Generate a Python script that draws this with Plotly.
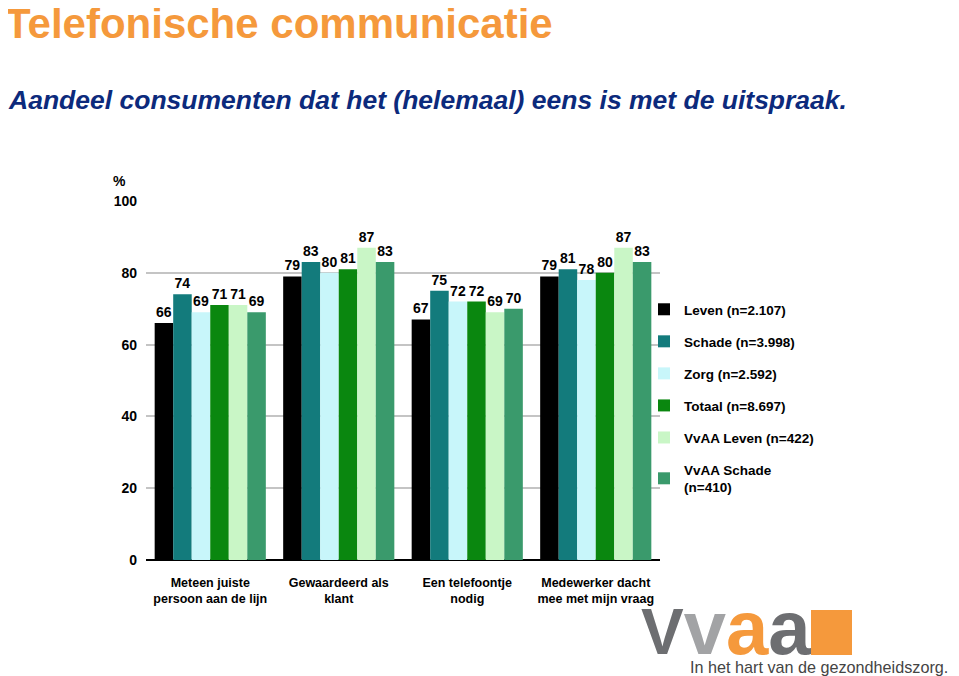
import plotly.graph_objects as go

categories = ["Meteen juiste<br>persoon aan de lijn", "Gewaardeerd als<br>klant",
              "Een telefoontje<br>nodig", "Medewerker dacht<br>mee met mijn vraag"]
series_names = ["Leven (n=2.107)", "Schade (n=3.998)", "Zorg (n=2.592)",
                "Totaal (n=8.697)", "VvAA Leven (n=422)", "VvAA Schade<br>(n=410)"]
leven = [66, 79, 67, 79]
schade = [74, 83, 75, 81]
zorg = [69, 80, 72, 78]
totaal = [71, 81, 72, 80]
vvaa_leven = [71, 87, 69, 87]
vvaa_schade = [69, 83, 70, 83]
y_ticks = [0, 20, 40, 60, 80, 100]

colors = ["#000000", "#137B7C", "#C8F6FA", "#0A870F", "#C9F6C6", "#3A9A6C"]
orange = "#F5993C"

# the page puts the figure 8px in from the top-left corner
OFF = 8
W, H = 959 - OFF, 676 - OFF
L, R, T, B = 146 - OFF, 299, 201 - OFF, 116
pw, ph = W - L - R, H - T - B

def px(x):
    return (x - OFF - L) / pw

def py(y):
    return (H - B - (y - OFF)) / ph

fig = go.Figure()
for name, vals, col in zip(series_names,
                           [leven, schade, zorg, totaal, vvaa_leven, vvaa_schade],
                           colors):
    fig.add_trace(go.Bar(x=categories, y=vals, name=name, marker_color=col,
                         marker_line_width=0, text=vals, textposition="outside",
                         cliponaxis=False, legendgroup=name,
                         textfont=dict(family="Liberation Sans", size=14,
                                       color="black", weight="bold")))

fig.update_layout(
    width=W, height=H,
    margin=dict(l=L, r=R, t=T, b=B),
    plot_bgcolor="white", paper_bgcolor="white",
    barmode="group", bargap=0.135, bargroupgap=0,
    font=dict(family="Liberation Sans", color="black"),
    showlegend=True,
    legend=dict(x=px(644), y=py(294), xanchor="left", yanchor="top",
                traceorder="grouped", tracegroupgap=11.5,
                font=dict(size=13.5, weight="bold"), bgcolor="rgba(0,0,0,0)"),
)
fig.update_xaxes(showgrid=False, showline=False, ticks="",
                 tickfont=dict(size=12.5, weight="bold"), ticklabelstandoff=13)
fig.update_yaxes(range=[0, 100], tickvals=y_ticks, showgrid=True,
                 gridcolor="#C4C4C4", gridwidth=1.5, zeroline=True,
                 zerolinecolor="black", zerolinewidth=2, showline=False,
                 ticks="", ticklabelstandoff=8,
                 tickfont=dict(size=14, weight="bold"))

logo = ("<span style='color:#6D6E71;font-size:64px'>V</span>"
        "<span style='color:#A2A3A5'>v</span>"
        f"<span style='color:{orange}'>a</span>"
        "<span style='color:#6D6E71'>a</span>")

ann = [
    dict(text="%", x=px(111), y=py(181), xanchor="left", yanchor="middle",
         font=dict(size=14, weight="bold")),
    dict(text="Telefonische communicatie", x=px(3), y=py(24), xanchor="left",
         yanchor="middle", font=dict(size=42, weight="bold", color=orange)),
    dict(text="<i>Aandeel consumenten dat het (helemaal) eens is met de uitspraak.</i>",
         x=px(6), y=py(100), xanchor="left", yanchor="middle",
         font=dict(size=26.5, weight="bold", color="#0C2A7C")),
    dict(text=logo, x=px(639), y=py(672), xanchor="left", yanchor="bottom",
         font=dict(size=76, weight="bold")),
    dict(text="In het hart van de gezondheidszorg.", x=px(688), y=py(667),
         xanchor="left", yanchor="middle",
         font=dict(family="Liberation Sans", size=16.2, color="#444444")),
]
for a in ann:
    a.update(xref="paper", yref="paper", showarrow=False)
fig.update_layout(annotations=ann)

fig.add_shape(type="rect", xref="paper", yref="paper",
              x0=px(811), x1=px(852), y0=py(655), y1=py(610),
              fillcolor=orange, line_width=0)

fig.write_html("out.html")
